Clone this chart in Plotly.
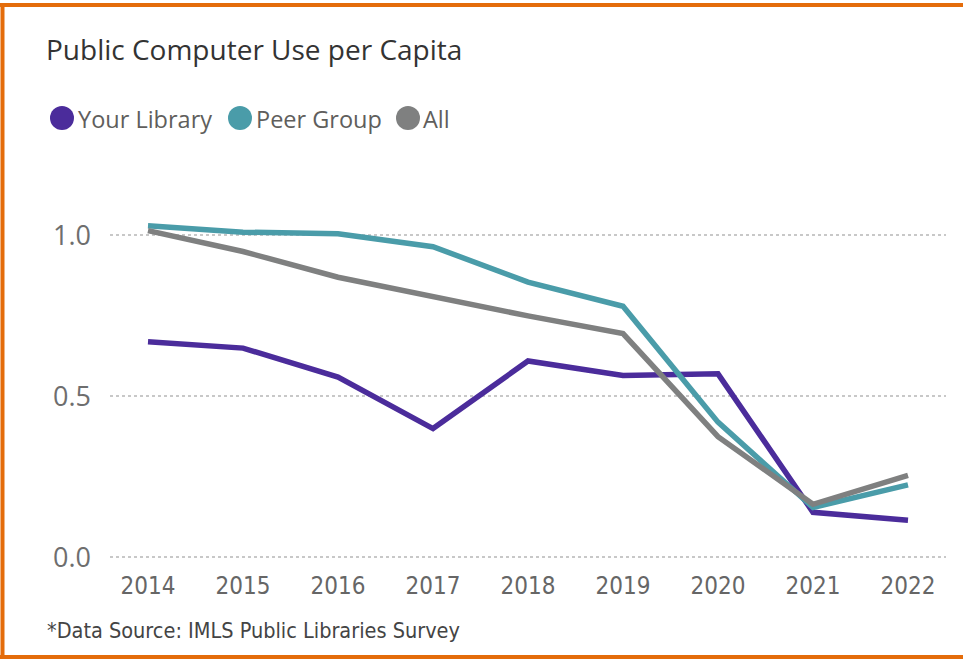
import plotly.graph_objects as go

years = ["2014", "2015", "2016", "2017", "2018", "2019", "2020", "2021", "2022"]
your_library = [0.67, 0.65, 0.56, 0.40, 0.61, 0.565, 0.57, 0.14, 0.115]
peer_group = [1.03, 1.01, 1.005, 0.965, 0.855, 0.78, 0.42, 0.155, 0.225]
all_libs = [1.015, 0.95, 0.87, 0.81, 0.75, 0.695, 0.375, 0.165, 0.255]

series_names = ["Your Library", "Peer Group", "All"]
colors = ["#4B2C9B", "#4A9CA9", "#7F8080"]

W, H = 963, 660
L, R, T, B = 110, 17, 171, 101
PW, PH = W - L - R, H - T - B

COND = "DejaVu Sans Condensed, Roboto Condensed, Liberation Sans Narrow, sans-serif"


def px(x):
    return (x - L) / PW


def py(y):
    return (H - B - y) / PH


fig = go.Figure()
for name, vals, c in zip(series_names, [your_library, peer_group, all_libs], colors):
    fig.add_trace(go.Scatter(x=years, y=vals, mode="lines", name=name,
                             line=dict(color=c, width=5.5), showlegend=False))

shapes = []
annotations = []
leg_circle_x = [62, 240, 408]
leg_text_x = [76, 254, 421]
for name, c, cx, tx in zip(series_names, colors, leg_circle_x, leg_text_x):
    shapes.append(dict(type="circle", xref="paper", yref="paper",
                       xsizemode="pixel", ysizemode="pixel",
                       xanchor=px(cx), yanchor=py(118),
                       x0=-12, x1=12, y0=-12, y1=12,
                       fillcolor=c, line=dict(width=0)))
    annotations.append(dict(text=name, xref="paper", yref="paper",
                            x=px(tx), y=py(119), xanchor="left", yanchor="middle",
                            showarrow=False,
                            font=dict(family="Open Sans", size=23.5, color="#605E5C")))

annotations.append(dict(text="*Data Source: IMLS Public Libraries Survey",
                        xref="paper", yref="paper", x=px(45), y=py(630),
                        xanchor="left", yanchor="middle", showarrow=False,
                        font=dict(family=COND, size=21.5, color="#444444")))

orange = "#E46C0A"
shapes.append(dict(type="line", xref="paper", yref="paper",
                   x0=px(0), x1=px(W + 5), y0=py(5), y1=py(5),
                   line=dict(color=orange, width=4)))
shapes.append(dict(type="line", xref="paper", yref="paper",
                   x0=px(2.5), x1=px(2.5), y0=py(5), y1=py(657),
                   line=dict(color=orange, width=4)))
shapes.append(dict(type="line", xref="paper", yref="paper",
                   x0=px(0), x1=px(W + 5), y0=py(657), y1=py(657),
                   line=dict(color=orange, width=4)))

fig.update_layout(
    width=W, height=H,
    margin=dict(l=L, r=R, t=T, b=B),
    paper_bgcolor="white", plot_bgcolor="white",
    title=dict(text="Public Computer Use per Capita", xref="container", yref="container",
               x=46 / W, y=1 - 50 / H, xanchor="left", yanchor="middle",
               font=dict(family="Open Sans", size=28, color="#333333")),
    showlegend=False,
    shapes=shapes,
    annotations=annotations,
    xaxis=dict(type="category", range=[-0.4, 8.4], showgrid=False, showline=False,
               zeroline=False, ticks="", ticklabelstandoff=10,
               tickfont=dict(family=COND, size=24, color="#666666")),
    yaxis=dict(range=[-0.005, 1.2], tickvals=[0, 0.5, 1.0], ticktext=["0.0", "0.5", "1.0"],
               showgrid=True, gridcolor="#C8C8C8", griddash="dot", gridwidth=1.5,
               zeroline=False, showline=False, ticks="", ticklabelstandoff=18,
               tickfont=dict(family="Open Sans", size=27, color="#6E6E6E")),
)

fig.write_html("out.html", config={"displayModeBar": False},
               post_script="document.body.style.margin='0';")
